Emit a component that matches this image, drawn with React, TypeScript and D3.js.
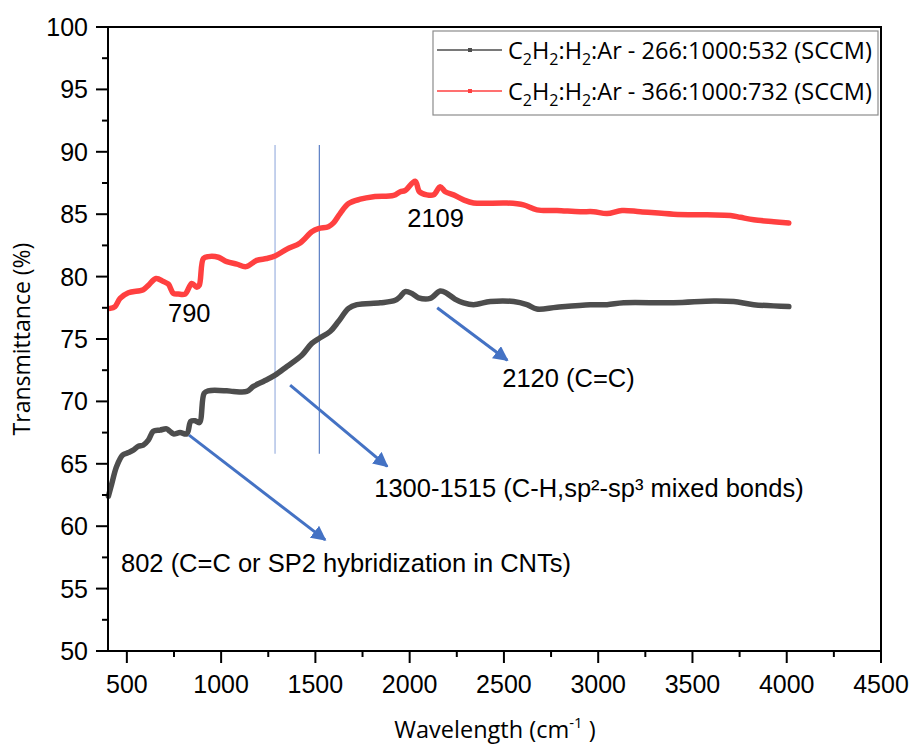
import React from "react";
import * as d3 from "d3";

// wavenumber (cm-1) / transmittance (%)
const blackX = [402, 420, 446, 478, 508, 534, 561, 587, 614, 640, 676, 711, 729, 747, 782, 818, 839, 862, 885, 910, 932, 1030, 1065, 1136, 1171, 1224, 1286, 1349, 1428, 1481, 1525, 1578, 1622, 1676, 1720, 1844, 1923, 1950, 1976, 2012, 2047, 2109, 2162, 2198, 2240, 2286, 2339, 2428, 2552, 2622, 2675, 2781, 2958, 3047, 3135, 3400, 3613, 3719, 3825, 4011];
const blackY = [62.4, 63.4, 64.8, 65.7, 65.9, 66.1, 66.4, 66.5, 66.9, 67.6, 67.7, 67.8, 67.6, 67.4, 67.5, 67.4, 68.4, 68.45, 68.3, 70.65, 70.85, 70.85, 70.8, 70.8, 71.2, 71.6, 72.1, 72.8, 73.7, 74.65, 75.1, 75.6, 76.4, 77.45, 77.75, 77.9, 78.1, 78.4, 78.8, 78.65, 78.3, 78.25, 78.85, 78.65, 78.2, 77.9, 77.75, 78.0, 78.0, 77.75, 77.4, 77.55, 77.75, 77.75, 77.9, 77.9, 78.05, 78.0, 77.75, 77.6];

const redX = [411, 437, 464, 508, 587, 614, 655, 694, 720, 747, 773, 809, 844, 871, 884, 906, 932, 985, 1030, 1083, 1132, 1189, 1242, 1286, 1349, 1419, 1481, 1516, 1569, 1596, 1631, 1676, 1738, 1808, 1915, 1950, 1976, 2029, 2052, 2091, 2127, 2162, 2189, 2233, 2286, 2339, 2516, 2604, 2675, 2781, 2905, 2976, 3047, 3126, 3224, 3400, 3578, 3701, 3754, 3825, 3931, 4011];
const redY = [77.45, 77.6, 78.25, 78.7, 78.95, 79.3, 79.85, 79.6, 79.4, 78.65, 78.6, 78.6, 79.45, 79.15, 79.3, 81.45, 81.6, 81.55, 81.2, 81.0, 80.8, 81.3, 81.45, 81.65, 82.2, 82.7, 83.6, 83.85, 84.0, 84.3, 85.05, 85.85, 86.2, 86.4, 86.5, 86.8, 86.9, 87.65, 86.8, 86.55, 86.55, 87.2, 86.8, 86.55, 86.15, 85.9, 85.9, 85.75, 85.35, 85.3, 85.2, 85.2, 85.05, 85.3, 85.2, 85.0, 84.95, 84.9, 84.75, 84.55, 84.4, 84.3];

const xTicks = [500, 1000, 1500, 2000, 2500, 3000, 3500, 4000, 4500];
const yTicks = [50, 55, 60, 65, 70, 75, 80, 85, 90, 95, 100];

const seriesNames = ["266:1000:532 (SCCM)", "366:1000:732 (SCCM)"];

// marker lines at 1300 / 1515 band
const bandLines = [1286, 1521];
const bandY = [65.8, 90.55];

const labels = [
  { x: 718, y: 76.4, text: "790" },
  { x: 1987, y: 84.0, text: "2109" },
  { x: 2491, y: 71.15, text: "2120 (C=C)" },
  { x: 1812, y: 62.3, text: "1300-1515 (C-H,sp²-sp³ mixed bonds)" },
  { x: 469, y: 56.3, text: "802 (C=C or SP2 hybridization in CNTs)" },
];

const arrows = [
  { x1: 830, y1: 67.3, x2: 1552, y2: 58.9 },
  { x1: 1366, y1: 71.3, x2: 1881, y2: 64.8 },
  { x1: 2146, y1: 77.5, x2: 2518, y2: 73.3 },
];

const W = 912;
const H = 747;
const m = { left: 108, right: 881, top: 27, bottom: 651 };

export default function App() {
  const x = d3.scaleLinear().domain([400, 4500]).range([m.left, m.right]);
  const y = d3.scaleLinear().domain([50, 100]).range([m.bottom, m.top]);

  const line = d3
    .line<[number, number]>()
    .x((d) => x(d[0]))
    .y((d) => y(d[1]))
    .curve(d3.curveCatmullRom.alpha(0.5));

  const black = blackX.map((v, i) => [v, blackY[i]] as [number, number]);
  const red = redX.map((v, i) => [v, redY[i]] as [number, number]);

  const xMinor = d3.range(750, 4500, 500);
  const yMinor = d3.range(52.5, 100, 5);

  const arial = "Arial, 'Liberation Sans', sans-serif";
  const sans = "'Open Sans', 'Noto Sans', sans-serif";

  const legendLabel = (rest: string) => (
    <>
      C<tspan fontSize="16" dy="6">2</tspan>
      <tspan dy="-6">H</tspan>
      <tspan fontSize="16" dy="6">2</tspan>
      <tspan dy="-6">:H</tspan>
      <tspan fontSize="16" dy="6">2</tspan>
      <tspan dy="-6">:Ar - {rest}</tspan>
    </>
  );

  return (
    <svg
      width={W}
      height={H}
      style={{ position: "absolute", left: 0, top: 0, background: "#fff" }}
    >
      <defs>
        <marker
          id="ah"
          viewBox="0 0 10 10"
          refX="9"
          refY="5"
          markerWidth="5"
          markerHeight="5"
          orient="auto"
          markerUnits="strokeWidth"
        >
          <path d="M0,0 L10,5 L0,10 z" fill="#4472c4" />
        </marker>
      </defs>

      {/* band lines */}
      {bandLines.map((b, i) => (
        <line
          key={b}
          x1={x(b)}
          x2={x(b)}
          y1={y(bandY[0])}
          y2={y(bandY[1])}
          stroke={i === 0 ? "#9db3e0" : "#5b7fc4"}
          strokeWidth={1.2}
        />
      ))}

      {/* series */}
      <path d={line(black) || ""} fill="none" stroke="#4d4d4d" strokeWidth={5.5} strokeLinejoin="round" strokeLinecap="round" />
      <path d={line(red) || ""} fill="none" stroke="#ff4040" strokeWidth={5.5} strokeLinejoin="round" strokeLinecap="round" />

      {/* arrows */}
      {arrows.map((a, i) => (
        <line
          key={i}
          x1={x(a.x1)}
          y1={y(a.y1)}
          x2={x(a.x2)}
          y2={y(a.y2)}
          stroke="#4472c4"
          strokeWidth={3}
          markerEnd="url(#ah)"
        />
      ))}

      {/* annotation text */}
      {labels.map((l) => (
        <text key={l.text} x={x(l.x)} y={y(l.y)} fontFamily={arial} fontSize={25.5} fill="#000">
          {l.text}
        </text>
      ))}

      {/* frame */}
      <rect
        x={m.left}
        y={m.top}
        width={m.right - m.left}
        height={m.bottom - m.top}
        fill="none"
        stroke="#000"
        strokeWidth={2}
      />

      {/* x ticks */}
      {xTicks.map((t) => (
        <g key={t}>
          <line x1={x(t)} x2={x(t)} y1={m.bottom} y2={m.bottom + 12} stroke="#000" strokeWidth={2} />
          <text x={x(t)} y={693} textAnchor="middle" fontFamily={arial} fontSize={25}>
            {t}
          </text>
        </g>
      ))}
      {xMinor.map((t) => (
        <line key={t} x1={x(t)} x2={x(t)} y1={m.bottom} y2={m.bottom + 6} stroke="#000" strokeWidth={2} />
      ))}

      {/* y ticks */}
      {yTicks.map((t) => (
        <g key={t}>
          <line x1={m.left - 12} x2={m.left} y1={y(t)} y2={y(t)} stroke="#000" strokeWidth={2} />
          <text x={88} y={y(t) + 9} textAnchor="end" fontFamily={arial} fontSize={25}>
            {t}
          </text>
        </g>
      ))}
      {yMinor.map((t) => (
        <line key={t} x1={m.left - 6} x2={m.left} y1={y(t)} y2={y(t)} stroke="#000" strokeWidth={2} />
      ))}

      {/* axis titles */}
      <text
        transform="translate(30,339) rotate(-90)"
        textAnchor="middle"
        fontFamily={sans}
        fontSize={23}
      >
        Transmittance (%)
      </text>
      <text x={495} y={738} textAnchor="middle" fontFamily={sans} fontSize={23.5}>
        Wavelength (cm<tspan fontSize="15" dy="-10">-1</tspan>
        <tspan dy="10"> )</tspan>
      </text>

      {/* legend */}
      <rect x={433} y={31} width={445} height={84} fill="#fff" stroke="#8c8c8c" strokeWidth={1.2} />
      {seriesNames.map((s, i) => {
        const cy = 50 + i * 41;
        const col = i === 0 ? "#4d4d4d" : "#ff4040";
        return (
          <g key={s}>
            <line x1={437} x2={502} y1={cy} y2={cy} stroke={col} strokeWidth={1.5} />
            <rect x={468} y={cy - 2} width={4} height={4} fill={col} />
            <text x={508} y={cy + 9} fontFamily={sans} fontSize={23.5} fill="#000">
              {legendLabel(s)}
            </text>
          </g>
        );
      })}
    </svg>
  );
}
